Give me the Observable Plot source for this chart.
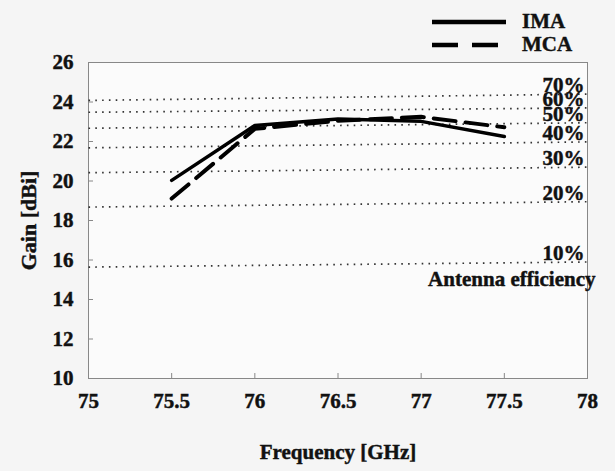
<!DOCTYPE html>
<html>
<head>
<meta charset="utf-8">
<script src="https://cdn.jsdelivr.net/npm/d3@7"></script>
<script src="https://cdn.jsdelivr.net/npm/@observablehq/plot@0.6"></script>
<style>
  html, body { margin: 0; padding: 0; background: #f5f5f5; }
  #wrap { position: relative; width: 615px; height: 471px; overflow: hidden; }
  #legend { position: absolute; left: 430px; top: 10px; font: bold 21px "Liberation Serif", "Times New Roman", serif; color: #111; -webkit-text-stroke: 0.4px #111; }
  #legend .row { display: flex; align-items: center; height: 23px; }
  #legend svg { margin-right: 16px; }
  #chart svg { font-family: "Liberation Serif", "Times New Roman", serif; }
  #chart svg text { stroke: #111; stroke-width: 0.45px; }
  #chart g[aria-label="x-axis tick label"], #chart g[aria-label="y-axis tick label"] { font-size: 21px; font-weight: bold; }
  #chart g[aria-label="x-axis label"] { font-size: 21px; font-weight: bold; }
  #chart g[aria-label="y-axis label"] { font-size: 22px; font-weight: bold; }
</style>
</head>
<body>
<div id="wrap">
  <div id="legend"></div>
  <div id="chart"></div>
</div>
<script>
// Data
const freq = [75.5, 76, 76.5, 77, 77.5];
const imaGain = [20.03, 22.81, 23.14, 23.02, 22.25];
const mcaGain = [19.11, 22.64, 23.05, 23.25, 22.72];

// Antenna efficiency reference lines (gain at 75 GHz and at 78 GHz)
const effLabels = ["70%", "60%", "50%", "40%", "30%", "20%", "10%"];
const effAt75 = [24.08, 23.48, 22.67, 21.68, 20.42, 18.68, 15.64];
const effAt78 = [24.40, 23.70, 22.95, 21.98, 20.70, 18.95, 15.90];
const effFreq = [75, 78];

const xTicks = [75, 75.5, 76, 76.5, 77, 77.5, 78];
const xTickLabels = ["75", "75.5", "76", "76.5", "77", "77.5", "78"];
const yTicks = [10, 12, 14, 16, 18, 20, 22, 24, 26];

const series = [
  ...freq.map((f, i) => ({ f, g: imaGain[i], s: "IMA" })),
  ...freq.map((f, i) => ({ f, g: mcaGain[i], s: "MCA" }))
];
const effLines = effLabels.flatMap((lab, i) => [
  { f: effFreq[0], g: effAt75[i], lab },
  { f: effFreq[1], g: effAt78[i], lab }
]);
const effEnds = effLabels.map((lab, i) => ({ f: effFreq[1], g: effAt78[i], lab }));

const chart = Plot.plot({
  width: 615,
  height: 471,
  marginLeft: 88,
  marginRight: 28,
  marginTop: 62,
  marginBottom: 93,
  style: { background: "transparent", color: "#111", overflow: "visible" },
  x: { domain: [75, 78] },
  y: { domain: [10, 26] },
  marks: [
    Plot.frame({ fill: "#fbfbfb", stroke: "#888", strokeWidth: 1 }),
    Plot.axisX({
      ticks: xTicks, tickFormat: (d, i) => xTickLabels[i], tickSize: -5, tickPadding: 20,
      fontSize: 21, fontWeight: "bold", stroke: "#888",
      label: "Frequency [GHz]", labelAnchor: "center", labelOffset: 80, labelArrow: "none"
    }),
    Plot.axisY({
      ticks: yTicks, tickSize: -5, tickPadding: 20,
      fontSize: 21, fontWeight: "bold", stroke: "#888",
      label: "Gain [dBi]", labelAnchor: "center", labelOffset: 68, labelArrow: "none"
    }),
    Plot.line(effLines, {
      x: "f", y: "g", z: "lab", stroke: "#333", strokeWidth: 1.7,
      strokeDasharray: "1.6,5.2", strokeLinecap: "butt"
    }),
    Plot.text(effEnds, {
      x: "f", y: "g", text: "lab", textAnchor: "end", lineAnchor: "bottom",
      dx: -3, dy: -2, fontSize: 21, fontWeight: "bold", fill: "#111"
    }),
    Plot.text(["Antenna efficiency"], {
      x: effFreq[1], y: effAt78[6], textAnchor: "end", lineAnchor: "bottom",
      dx: 8, dy: 24, fontSize: 21, fontWeight: "bold", fill: "#111"
    }),
    Plot.line(series.filter(d => d.s === "IMA"), {
      x: "f", y: "g", stroke: "#000", strokeWidth: 3.5
    }),
    Plot.line(series.filter(d => d.s === "MCA"), {
      x: "f", y: "g", stroke: "#000", strokeWidth: 4, strokeDasharray: "22,10"
    })
  ]
});
document.getElementById("chart").appendChild(chart);

// Legend
const legend = document.getElementById("legend");
[["IMA", null], ["MCA", "26,14"]].forEach(([name, dash]) => {
  const row = document.createElement("div");
  row.className = "row";
  row.innerHTML = `<svg width="76" height="10"><line x1="2" y1="5" x2="76" y2="5" stroke="#000" stroke-width="4.5" ${dash ? `stroke-dasharray="${dash}"` : ""}/></svg><span>${name}</span>`;
  legend.appendChild(row);
});
</script>
</body>
</html>
